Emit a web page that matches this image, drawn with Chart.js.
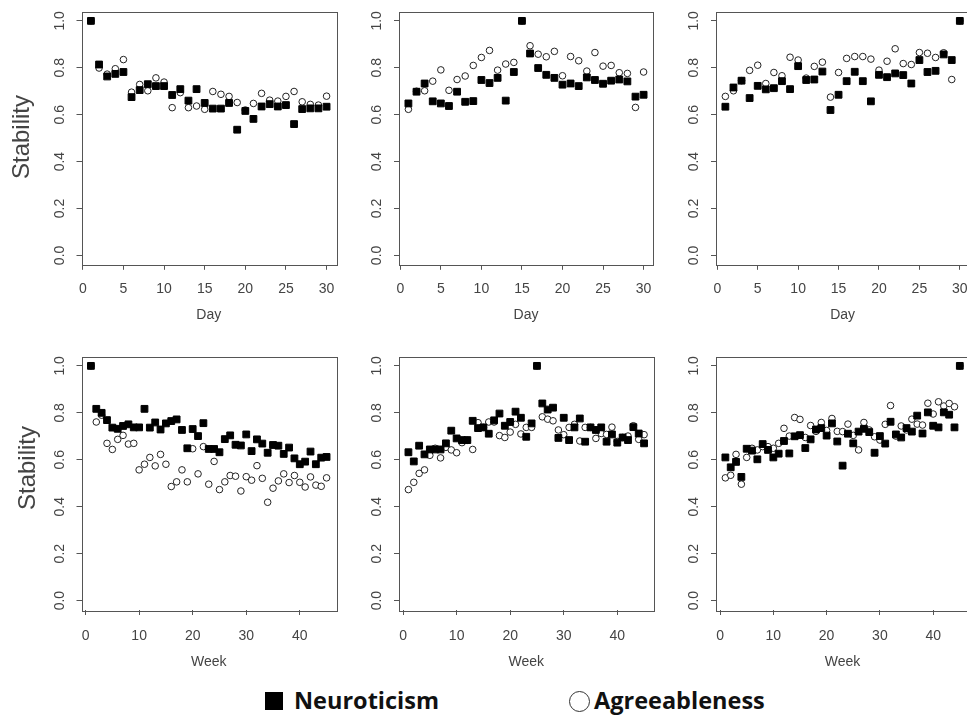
<!DOCTYPE html>
<html>
<head>
<meta charset="utf-8">
<script src="https://cdn.jsdelivr.net/npm/chart.js@4"></script>
<style>
  body { margin: 0; width: 967px; height: 715px; overflow: hidden; background: #fff; position: relative; }
  .panel { position: absolute; }
  .ylab { position: absolute; font: 24px "Liberation Sans", Arial, sans-serif; color: #444; transform: rotate(-90deg); transform-origin: center; white-space: nowrap; }
  .legend { position: absolute; font: bold 23.5px "Open Sans", "DejaVu Sans", sans-serif; color: #111; white-space: nowrap; }
</style>
</head>
<body>
<div class="panel" style="left:0;top:0"><canvas id="p1" width="345" height="330"></canvas></div>
<div class="panel" style="left:340px;top:0"><canvas id="p2" width="320" height="330"></canvas></div>
<div class="panel" style="left:655px;top:0"><canvas id="p3" width="320" height="330"></canvas></div>
<div class="panel" style="left:0;top:330px"><canvas id="p4" width="345" height="350"></canvas></div>
<div class="panel" style="left:340px;top:330px"><canvas id="p5" width="320" height="350"></canvas></div>
<div class="panel" style="left:655px;top:330px"><canvas id="p6" width="320" height="350"></canvas></div>

<div class="ylab" style="left:-20px;top:124px;width:82px;text-align:center">Stability</div>
<div class="ylab" style="left:-14px;top:455px;width:82px;text-align:center">Stability</div>

<div class="legend" style="left:265px;top:692px;width:18px;height:18px;background:#000"></div>
<div class="legend" style="left:294px;top:684px">Neuroticism</div>
<div class="legend" style="left:569px;top:691px;width:21px;height:21px;border:1.5px solid #333;border-radius:50%;box-sizing:border-box"></div>
<div class="legend" style="left:594px;top:684px">Agreeableness</div>

<script>
// x categories
const days = [1,2,3,4,5,6,7,8,9,10,11,12,13,14,15,16,17,18,19,20,21,22,23,24,25,26,27,28,29,30];
const weeks = [1,2,3,4,5,6,7,8,9,10,11,12,13,14,15,16,17,18,19,20,21,22,23,24,25,26,27,28,29,30,
  31,32,33,34,35,36,37,38,39,40,41,42,43,44,45];

// tick labels
const yTicks = [0, 0.2, 0.4, 0.6, 0.8, 1.0];
const dayTicks = [0, 5, 10, 15, 20, 25, 30];
const weekTicks = [0, 10, 20, 30, 40];

// top row (daily)
const p1Neuro = [1.0,.814,.763,.774,.782,.675,.705,.730,.722,.722,.684,.709,.660,.709,.650,.626,.626,.650,.536,.616,
  .582,.635,.645,.635,.641,.560,.624,.627,.627,.634];
const p1Agree = [1.0,.799,.773,.796,.835,.696,.729,.702,.757,.739,.630,.694,.630,.637,.623,.699,.687,.678,.652,.620,
  .648,.691,.662,.658,.678,.699,.655,.644,.641,.679];
const p2Neuro = [.648,.698,.733,.657,.648,.637,.698,.655,.658,.748,.735,.757,.660,.782,1.0,.861,.799,.770,.757,.728,
  .733,.722,.759,.748,.732,.745,.750,.742,.677,.685];
const p2Agree = [.623,.700,.702,.743,.791,.704,.750,.765,.810,.844,.874,.790,.816,.823,1.0,.894,.858,.847,.870,.766,
  .848,.830,.786,.865,.807,.810,.779,.776,.631,.782];
const p3Neuro = [.634,.716,.745,.671,.723,.708,.713,.743,.709,.807,.748,.750,.784,.620,.685,.743,.783,.743,.657,.770,
  .760,.776,.769,.733,.833,.782,.787,.857,.833,1.0];
const p3Agree = [.678,.702,.745,.789,.811,.733,.780,.766,.845,.833,.756,.806,.824,.675,.780,.840,.848,.848,.837,.790,
  .828,.881,.818,.814,.865,.862,.844,.864,.750,1.0];

// bottom row (weekly)
const p4Neuro = [1.0,.817,.800,.769,.737,.732,.744,.751,.738,.738,.817,.737,.759,.729,.755,.765,.772,.727,.649,.731,
  .701,.756,.646,.646,.632,.688,.704,.664,.661,.708,.637,.687,.669,.630,.663,.660,.625,.652,.606,.581,
  .592,.635,.581,.609,.612];
const p4Agree = [1.0,.761,.790,.670,.644,.687,.704,.667,.670,.557,.581,.610,.574,.623,.581,.486,.506,.557,.506,.647,
  .540,.656,.496,.593,.473,.506,.533,.530,.467,.528,.513,.575,.521,.419,.479,.510,.540,.503,.533,.504,
  .484,.527,.492,.487,.523];
const p5Neuro = [.632,.593,.660,.623,.644,.644,.644,.670,.724,.691,.684,.684,.766,.735,.738,.711,.768,.797,.745,.761,
  .805,.779,.698,.755,1.0,.840,.814,.822,.693,.779,.684,.738,.776,.677,.738,.727,.738,.677,.708,.673,
  .695,.684,.739,.712,.670];
const p5Agree = [.473,.504,.542,.557,.619,.649,.608,.653,.642,.630,.673,.683,.644,.758,.738,.761,.761,.703,.695,.718,
  .751,.710,.738,.738,1.0,.783,.773,.766,.727,.707,.738,.751,.680,.738,.738,.691,.712,.708,.739,.678,
  .695,.701,.745,.687,.707];
const p6Neuro = [.610,.568,.591,.527,.647,.639,.602,.667,.642,.610,.626,.680,.627,.700,.705,.650,.687,.729,.735,.703,
  .755,.678,.575,.711,.670,.720,.732,.718,.630,.701,.669,.762,.708,.695,.735,.720,.788,.712,.802,.745,
  .738,.802,.792,.738,1.0];
const p6Agree = [.523,.534,.623,.496,.610,.649,.642,.656,.656,.649,.670,.734,.701,.780,.772,.695,.746,.721,.759,.725,
  .776,.721,.720,.752,.704,.642,.759,.727,.698,.684,.751,.831,.701,.744,.727,.773,.752,.748,.841,.795,
  .847,.829,.840,.826,1.0];

Chart.defaults.font.family = '"Liberation Sans", Arial, sans-serif';

const boxPlugin = {
  id: 'box',
  beforeDatasetsDraw(chart) {
    const { ctx, chartArea: a } = chart;
    ctx.save();
    ctx.strokeStyle = '#555';
    ctx.lineWidth = 1;
    ctx.strokeRect(Math.round(a.left) + 0.5, Math.round(a.top) + 0.5,
      Math.round(a.right - a.left), Math.round(a.bottom - a.top));
    ctx.restore();
  }
};

function makePanel(id, xs, neuro, agree, xTicks, xMax, xLabel, box) {
  const canvas = document.getElementById(id);
  const w = canvas.width, h = canvas.height;
  const toPoints = vals => vals.map((v, i) => ({ x: xs[i], y: v }));
  const pad = (xMax - 1) * 0.04;

  return new Chart(canvas, {
    type: 'scatter',
    data: {
      datasets: [{
        label: 'Neuroticism',
        data: toPoints(neuro),
        pointStyle: 'rect',
        pointRadius: 4.8,
        backgroundColor: '#000',
        borderColor: '#000',
        borderWidth: 1
      }, {
        label: 'Agreeableness',
        data: toPoints(agree),
        pointStyle: 'circle',
        pointRadius: 3.3,
        backgroundColor: '#fff',
        borderColor: '#222',
        borderWidth: 1
      }]
    },
    options: {
      responsive: false,
      animation: false,
      events: [],
      layout: { padding: { top: box.top, right: w - box.right, left: 0, bottom: 0 } },
      plugins: { legend: { display: false }, tooltip: { enabled: false } },
      scales: {
        x: {
          type: 'linear',
          min: 1 - pad,
          max: xMax + pad,
          afterBuildTicks: s => { s.ticks = xTicks.map(v => ({ value: v })); },
          afterFit: s => { s.height = h - box.bottom; s.paddingLeft = 0; s.paddingRight = 0; },
          grid: { drawOnChartArea: false, drawTicks: true, tickLength: 5, tickColor: '#555', color: '#555' },
          border: { display: false },
          ticks: { color: '#444', font: { size: 14 }, padding: box.xPad, maxRotation: 0, autoSkip: false },
          title: { display: true, text: xLabel, color: '#444', font: { size: 14 }, padding: { top: 0, bottom: box.titlePad } }
        },
        y: {
          min: -0.04,
          max: 1.04,
          afterBuildTicks: s => { s.ticks = yTicks.map(v => ({ value: v })); },
          afterFit: s => { s.width = box.left; s.paddingTop = 0; s.paddingBottom = 0; },
          grid: { drawOnChartArea: false, drawTicks: true, tickLength: 5, tickColor: '#555', color: '#555' },
          border: { display: false },
          ticks: {
            color: '#444', font: { size: 14 }, padding: 7,
            minRotation: 90, maxRotation: 90, crossAlign: 'center',
            callback: v => v.toFixed(1)
          }
        }
      }
    },
    plugins: [boxPlugin]
  });
}

const topRow = { top: 11.5, bottom: 264.8, xPad: 11, titlePad: 6 };
const botRow = { top: 26.5, bottom: 280, xPad: 13, titlePad: 9 };

makePanel('p1', days, p1Neuro, p1Agree, dayTicks, 30, 'Day', { ...topRow, left: 81.5, right: 336 });
makePanel('p2', days, p2Neuro, p2Agree, dayTicks, 30, 'Day', { ...topRow, left: 59, right: 313 });
makePanel('p3', days, p3Neuro, p3Agree, dayTicks, 30, 'Day', { ...topRow, left: 61, right: 315 });
makePanel('p4', weeks, p4Neuro, p4Agree, weekTicks, 45, 'Week', { ...botRow, left: 81.5, right: 336 });
makePanel('p5', weeks, p5Neuro, p5Agree, weekTicks, 45, 'Week', { ...botRow, left: 59, right: 313.5 });
makePanel('p6', weeks, p6Neuro, p6Agree, weekTicks, 45, 'Week', { ...botRow, left: 61, right: 315 });
</script>
</body>
</html>
